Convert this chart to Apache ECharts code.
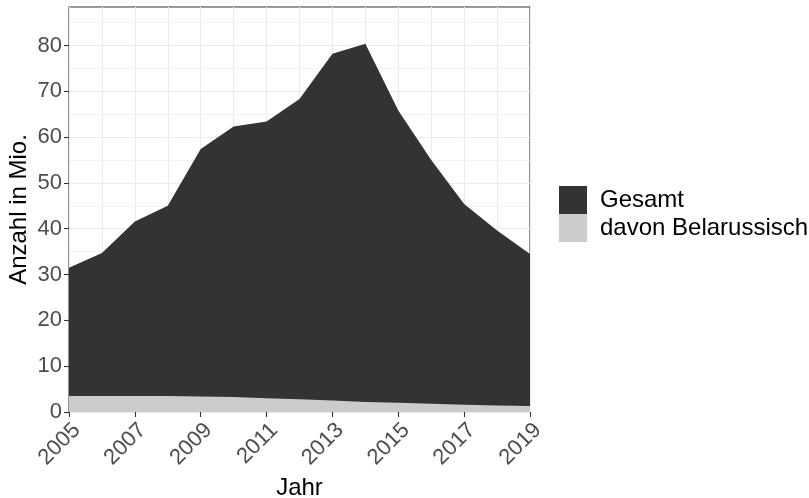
<!DOCTYPE html>
<html>
<head>
<meta charset="utf-8">
<script src="https://cdn.jsdelivr.net/npm/echarts@6/dist/echarts.min.js"></script>
<style>
html, body { margin: 0; padding: 0; background: #fff; }
#chart { width: 809px; height: 498px; }
</style>
</head>
<body>
<div id="chart"></div>
<script>
var jahre = ['2005', '2006', '2007', '2008', '2009', '2010', '2011', '2012', '2013', '2014', '2015', '2016', '2017', '2018', '2019'];
var gesamt = [31.5, 34.7, 41.6, 45.0, 57.4, 62.3, 63.4, 68.3, 78.2, 80.4, 65.8, 55.0, 45.4, 39.6, 34.5];
var belarussisch = [3.5, 3.5, 3.5, 3.5, 3.4, 3.3, 3.0, 2.8, 2.5, 2.2, 2.0, 1.8, 1.6, 1.4, 1.3];
var yTicks = [0, 10, 20, 30, 40, 50, 60, 70, 80];

var myChart = echarts.init(document.getElementById('chart'));
var option = {
	animation : false,
	backgroundColor : '#fff',
	textStyle : { fontFamily : 'Liberation Sans' },
	grid : {
		left : 69,
		right : 279,
		top : 7,
		bottom : 86,
		show : true,
		borderColor : '#333333',
		borderWidth : 1.1,
		containLabel : false,
		outerBoundsMode : 'none'
	},
	legend : {
		orient : 'vertical',
		left : 554,
		top : 181,
		itemWidth : 28,
		itemHeight : 28,
		itemGap : 0,
		icon : 'rect',
		textStyle : { fontSize : 24, lineHeight : 28, color : '#000', padding : [0, 0, 0, 8] },
		data : [ { name : 'Gesamt' }, { name : 'davon Belarussisch' } ]
	},
	xAxis : {
		type : 'category',
		boundaryGap : false,
		data : jahre,
		name : 'Jahr',
		nameLocation : 'middle',
		nameGap : 64,
		nameMoveOverlap : false,
		nameTextStyle : { fontSize : 24, color : '#000' },
		axisLine : { show : false },
		axisTick : { show : true, interval : 1, length : 5, lineStyle : { color : '#333', width : 1.1 } },
		axisLabel : { interval : 1, rotate : 45, fontSize : 22, color : '#4d4d4d', margin : 7, align : 'right', verticalAlign : 'top' },
		splitLine : { show : true, interval : 0, lineStyle : { color : '#ebebeb', width : 1.1 } }
	},
	yAxis : {
		type : 'value',
		min : 0,
		max : 88.4,
		interval : 10,
		name : 'Anzahl in Mio.',
		nameLocation : 'middle',
		nameGap : 38,
		nameMoveOverlap : false,
		nameTextStyle : { fontSize : 24, color : '#000' },
		axisLine : { show : false },
		axisTick : { show : true, length : 5, customValues : yTicks, lineStyle : { color : '#333', width : 1.1 } },
		axisLabel : { fontSize : 22, color : '#4d4d4d', margin : 7, customValues : yTicks },
		splitLine : { show : true, lineStyle : { color : '#ebebeb', width : 1.1 } },
		minorTick : { show : false, splitNumber : 2 },
		minorSplitLine : { show : true, lineStyle : { color : '#ebebeb', width : 0.6 } }
	},
	series : [ {
		name : 'Gesamt',
		type : 'line',
		data : gesamt,
		showSymbol : false,
		symbol : 'none',
		lineStyle : { width : 0 },
		itemStyle : { color : '#333333' },
		areaStyle : { color : '#333333', opacity : 1 },
		z : 2
	}, {
		name : 'davon Belarussisch',
		type : 'line',
		data : belarussisch,
		showSymbol : false,
		symbol : 'none',
		lineStyle : { width : 0 },
		itemStyle : { color : '#cccccc' },
		areaStyle : { color : '#cccccc', opacity : 1 },
		z : 3
	} ]
};
myChart.setOption(option);
</script>
</body>
</html>
